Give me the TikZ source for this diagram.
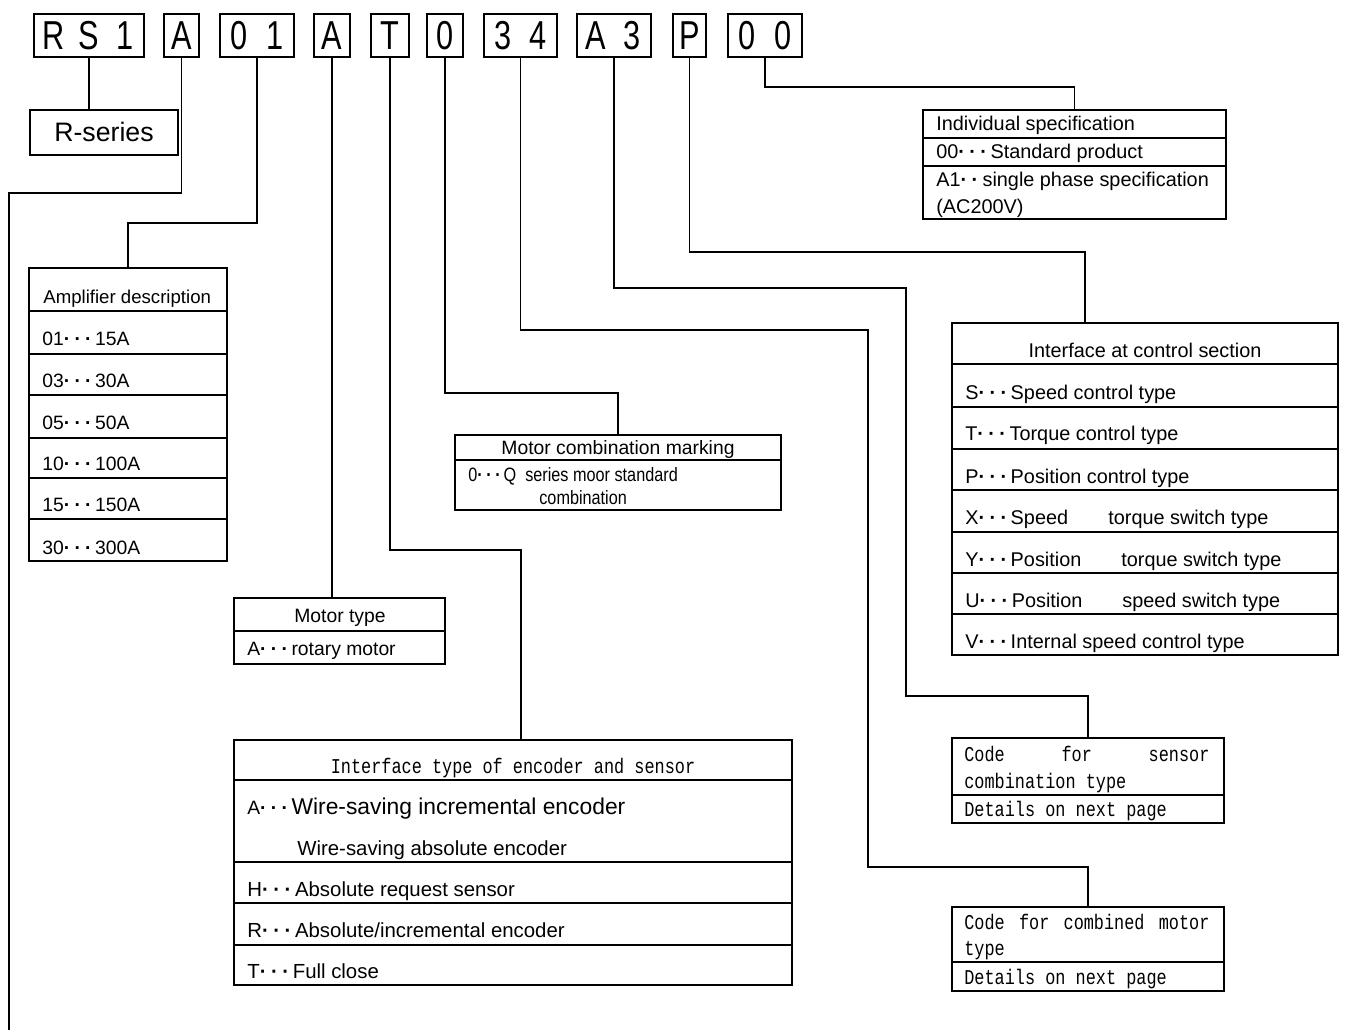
\documentclass[tikz,border=0pt]{standalone}
\usepackage{fontspec}
\setmainfont{Liberation Sans}
\newfontfamily\monof{Liberation Mono}
\usetikzlibrary{fit}
\newcommand\tdots{{\bfseries ·}\kern.22em{\bfseries ·}\kern.22em{\bfseries ·}\kern.18em}
\newcommand\twodots{{\bfseries ·}\kern.22em{\bfseries ·}\kern.22em}
\newcommand\cch[1]{\makebox[20.4pt][c]{\scalebox{0.76}[1]{#1}}}
\newcommand\mono[1]{\scalebox{1}[1.25]{\monof\fontsize{9.6}{11}\selectfont #1}}
\newcommand\narrow[1]{\scalebox{0.84}[1]{#1}}
\begin{document}
\begin{tikzpicture}[x=0.02cm,y=-0.02cm,
  box/.style={draw, line width=1pt, inner sep=0pt},
  wire/.style={line width=0.8pt},
  txt/.style={inner sep=0pt, anchor=base west, font=\fontsize{11}{13}\selectfont},
  ctxt/.style={inner sep=0pt, anchor=base, font=\fontsize{11}{13}\selectfont},
  code/.style={inner sep=0pt, font=\fontsize{23}{23}\selectfont}]
\useasboundingbox[fill=white] (0,0) rectangle (1346,1030);

% ---- code boxes ----
\node[box, fit={(34,14)(144,57)}] (cRS) {};
\node[box, fit={(164,14)(199,57)}] (cA1) {};
\node[box, fit={(220,14)(294,57)}] (c01) {};
\node[box, fit={(314,14)(350,57)}] (cA2) {};
\node[box, fit={(371,14)(409,57)}] (cT) {};
\node[box, fit={(427,14)(463,57)}] (c0) {};
\node[box, fit={(484,14)(557,57)}] (c34) {};
\node[box, fit={(577,14)(651,57)}] (cA3) {};
\node[box, fit={(673,14)(706,57)}] (cP) {};
\node[box, fit={(728,14)(802,57)}] (c00) {};
\node[code] at (cRS.center) {\cch{R}\cch{S}\cch{1}};
\node[code] at (cA1.center) {\cch{A}};
\node[code] at (c01.center) {\cch{0}\cch{1}};
\node[code] at (cA2.center) {\cch{A}};
\node[code] at (cT.center) {\cch{T}};
\node[code] at (c0.center) {\cch{0}};
\node[code] at (c34.center) {\cch{3}\cch{4}};
\node[code] at (cA3.center) {\cch{A}\cch{3}};
\node[code] at (cP.center) {\cch{P}};
\node[code] at (c00.center) {\cch{0}\cch{0}};

% ---- R-series ----
\node[box, fit={(30,110)(178,155)}] (rs) {};
\node[inner sep=0pt, anchor=base, font=\fontsize{15.2}{17}\selectfont] at (104,142) {R-series};

% ---- Amplifier description ----
\node[box, fit={(29,268)(227,561)}] (amp) {};
\foreach \yy in {311,354,395,438,478,519} \draw[line width=1pt] (29,\yy) -- (227,\yy);
\node[txt, font=\fontsize{10.6}{13}\selectfont] at (43,304) {Amplifier description};
\node[txt] at (42,346) {01\tdots 15A};
\node[txt] at (42,388) {03\tdots 30A};
\node[txt] at (42,430) {05\tdots 50A};
\node[txt] at (42,471) {10\tdots 100A};
\node[txt] at (42,512) {15\tdots 150A};
\node[txt] at (42,554) {30\tdots 300A};

% ---- Motor type ----
\node[box, fit={(234,598)(445,664)}] (mt) {};
\draw[line width=1pt] (234,631) -- (445,631);
\node[ctxt] at (340,622) {Motor type};
\node[txt] at (247,655) {A\tdots rotary motor};

% ---- Motor combination marking ----
\node[box, fit={(455,435)(781,510)}] (mc) {};
\draw[line width=1pt] (455,460) -- (781,460);
\node[ctxt] at (618,455) {Motor combination marking};
\node[txt] at (468,481) {\narrow{0\tdots Q\ \ series moor standard}};
\node[txt] at (539,504) {\narrow{combination}};

% ---- Encoder / sensor interface ----
\node[box, fit={(234,740)(792,985)}] (enc) {};
\foreach \yy in {780,862,903,945} \draw[line width=1pt] (234,\yy) -- (792,\yy);
\node[inner sep=0pt, anchor=base] at (513,773) {\mono{Interface type of encoder and sensor}};
\node[txt] at (247,814) {A\tdots\fontsize{13}{15}\selectfont Wire-saving incremental encoder};
\node[txt, font=\fontsize{11.6}{14}\selectfont] at (297,855) {Wire-saving absolute encoder};
\node[txt, font=\fontsize{11.6}{14}\selectfont] at (247,896) {H\tdots Absolute request sensor};
\node[txt, font=\fontsize{11.6}{14}\selectfont] at (247,937) {R\tdots Absolute/incremental encoder};
\node[txt, font=\fontsize{11.6}{14}\selectfont] at (247,978) {T\tdots Full close};

% ---- Individual specification ----
\node[box, fit={(923,110)(1226,219)}] (isp) {};
\draw[line width=1pt] (923,138) -- (1226,138);
\draw[line width=1pt] (923,166) -- (1226,166);
\node[txt, font=\fontsize{11.3}{13}\selectfont] at (936,131) {Individual specification};
\node[txt, font=\fontsize{11.3}{13}\selectfont] at (936,159) {00\tdots Standard product};
\node[txt, font=\fontsize{11.3}{13}\selectfont] at (936,187) {A1\twodots single phase specification};
\node[txt, font=\fontsize{11.3}{13}\selectfont] at (936,214) {(AC200V)};

% ---- Interface at control section ----
\node[box, fit={(952,323)(1338,655)}] (ic) {};
\foreach \yy in {364,407,449,490,532,573,614} \draw[line width=1pt] (952,\yy) -- (1338,\yy);
\node[ctxt, font=\fontsize{11.3}{13}\selectfont] at (1145,358) {Interface at control section};
\node[txt, font=\fontsize{11.3}{13}\selectfont] at (965,400) {S\tdots Speed control type};
\node[txt, font=\fontsize{11.3}{13}\selectfont] at (965,441) {T\tdots Torque control type};
\node[txt, font=\fontsize{11.3}{13}\selectfont] at (965,483) {P\tdots Position control type};
\node[txt, font=\fontsize{11.3}{13}\selectfont] at (965,524) {X\tdots Speed};
\node[txt, font=\fontsize{11.3}{13}\selectfont] at (1108,524) {torque switch type};
\node[txt, font=\fontsize{11.3}{13}\selectfont] at (965,566) {Y\tdots Position};
\node[txt, font=\fontsize{11.3}{13}\selectfont] at (1121,566) {torque switch type};
\node[txt, font=\fontsize{11.3}{13}\selectfont] at (965,607) {U\tdots Position};
\node[txt, font=\fontsize{11.3}{13}\selectfont] at (1122,607) {speed switch type};
\node[txt, font=\fontsize{11.3}{13}\selectfont] at (965,648) {V\tdots Internal speed control type};

% ---- Sensor combination ----
\node[box, fit={(952,738)(1224,823)}] (sens) {};
\draw[line width=1pt] (952,795) -- (1224,795);
\node[txt] at (964,761) {\mono{\makebox[139.5pt][l]{Code\hfill for\hfill sensor}}};
\node[txt] at (964,788) {\mono{combination type}};
\node[txt] at (964,816) {\mono{Details on next page}};

% ---- Combined motor ----
\node[box, fit={(952,907)(1224,991)}] (cm) {};
\draw[line width=1pt] (952,962) -- (1224,962);
\node[txt] at (964,929) {\mono{\makebox[139.5pt][l]{Code\hfill for\hfill combined\hfill motor}}};
\node[txt] at (964,955) {\mono{type}};
\node[txt] at (964,984) {\mono{Details on next page}};

% ---- connectors ----
\coordinate (endL) at (9,1030);
\coordinate (encIn) at (521,740);
\coordinate (icIn) at (1085,323);
\draw[wire] (cRS.south) -- (cRS.south |- rs.north);
\draw[wire] (cA1.south) -- ++(0,135) -| (endL);
\draw[wire] (c01.south) -- ++(0,165) -| (amp.north);
\draw[wire] (cA2.south) -- (cA2.south |- mt.north);
\draw[wire] (cT.south) -- ++(0,492) -| (encIn);
\draw[wire] (c0.south) -- ++(0,335) -| (mc.north);
\draw[wire] (c34.south) -- ++(0,272) -| (868,867) -| (cm.north);
\draw[wire] (cA3.south) -- ++(0,230) -| (906,696) -| (sens.north);
\draw[wire] (cP.south) -- ++(0,194) -| (icIn);
\draw[wire] (c00.south) -- ++(0,29) -| (isp.north);
\end{tikzpicture}
\end{document}
